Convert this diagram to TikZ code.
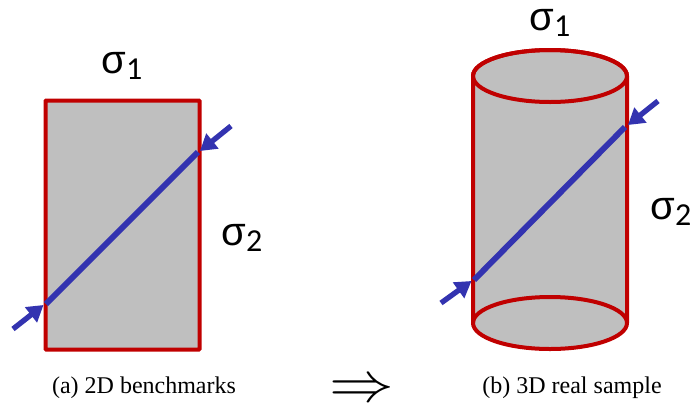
\documentclass[tikz,border=0pt]{standalone}
\usepackage{fontspec}
\usepackage{graphicx}
\setmainfont{Liberation Serif}
\newfontfamily\sgfont{Liberation Sans}
\newfontfamily\subfont{Carlito}
\usetikzlibrary{arrows.meta}
\definecolor{redl}{HTML}{C00000}
\definecolor{bluel}{HTML}{3333B0}
\definecolor{fillg}{HTML}{BFBFBF}
\newcommand{\sg}[1]{{\sgfont σ}\raisebox{-5pt}{\subfont\fontsize{24pt}{26pt}\selectfont #1}}
\tikzset{
 px/.style={x=0.75pt,y=-0.75pt},
 outl/.style={draw=redl,line width=3pt},
 beam/.style={draw=bluel,line width=4.4pt},
 arr/.style={draw=bluel,line width=4pt,-{Triangle[length=12pt,width=14pt]}},
 capt/.style={font=\fontsize{18pt}{20pt}\selectfont,text=black,inner sep=0pt},
 sig/.style={font=\fontsize{30pt}{30pt}\selectfont,text=black,inner sep=0pt}
}
\begin{document}
\begin{tikzpicture}[px]
\useasboundingbox (0,0) rectangle (692,411);
\filldraw[fill=fillg,outl,rounded corners=0.5pt] (45.5,100.5) rectangle (199.5,349.5);
\coordinate (a1) at (46,304); \coordinate (a2) at (198,152);
\coordinate (at) at (43.5,305); \coordinate (au) at (200,151);
\coordinate (as) at (13,329); \coordinate (ae) at (231,126);
\draw[beam] (a1) -- (a2);
\draw[arr] (as) -- (at);
\draw[arr] (ae) -- (au);
\node[sig] (s1) at (122,66) {\sg{1}};
\node[sig] (s2) at (242,238) {\sg{2}};
\filldraw[fill=fillg,outl] (473,76) -- (473,323) arc[start angle=180,end angle=0,x radius=77,y radius=26] -- (627,76) arc[start angle=0,end angle=-180,x radius=77,y radius=26] -- cycle;
\draw[outl] (550,76) ellipse[x radius=77,y radius=26];
\draw[outl] (473,323) arc[start angle=180,end angle=360,x radius=77,y radius=26];
\coordinate (b1) at (474,280); \coordinate (b2) at (625,127);
\coordinate (bt) at (471.5,281); \coordinate (bu) at (628,125);
\coordinate (bs) at (441,303); \coordinate (be) at (658,101);
\draw[beam] (b1) -- (b2);
\draw[arr] (bs) -- (bt);
\draw[arr] (be) -- (bu);
\node[sig] (s3) at (550,23) {\sg{1}};
\node[sig] (s4) at (671,212) {\sg{2}};
\node[capt] (c1) at (144,388) {(a) 2D benchmarks};
\node[capt] (c2) at (572,388) {(b) 3D real sample};
\node[inner sep=0pt] (imp) at (362,391) {\scalebox{1.95}[1.7]{\fontsize{50pt}{52pt}\selectfont$\Rightarrow$}};
\end{tikzpicture}
\end{document}
